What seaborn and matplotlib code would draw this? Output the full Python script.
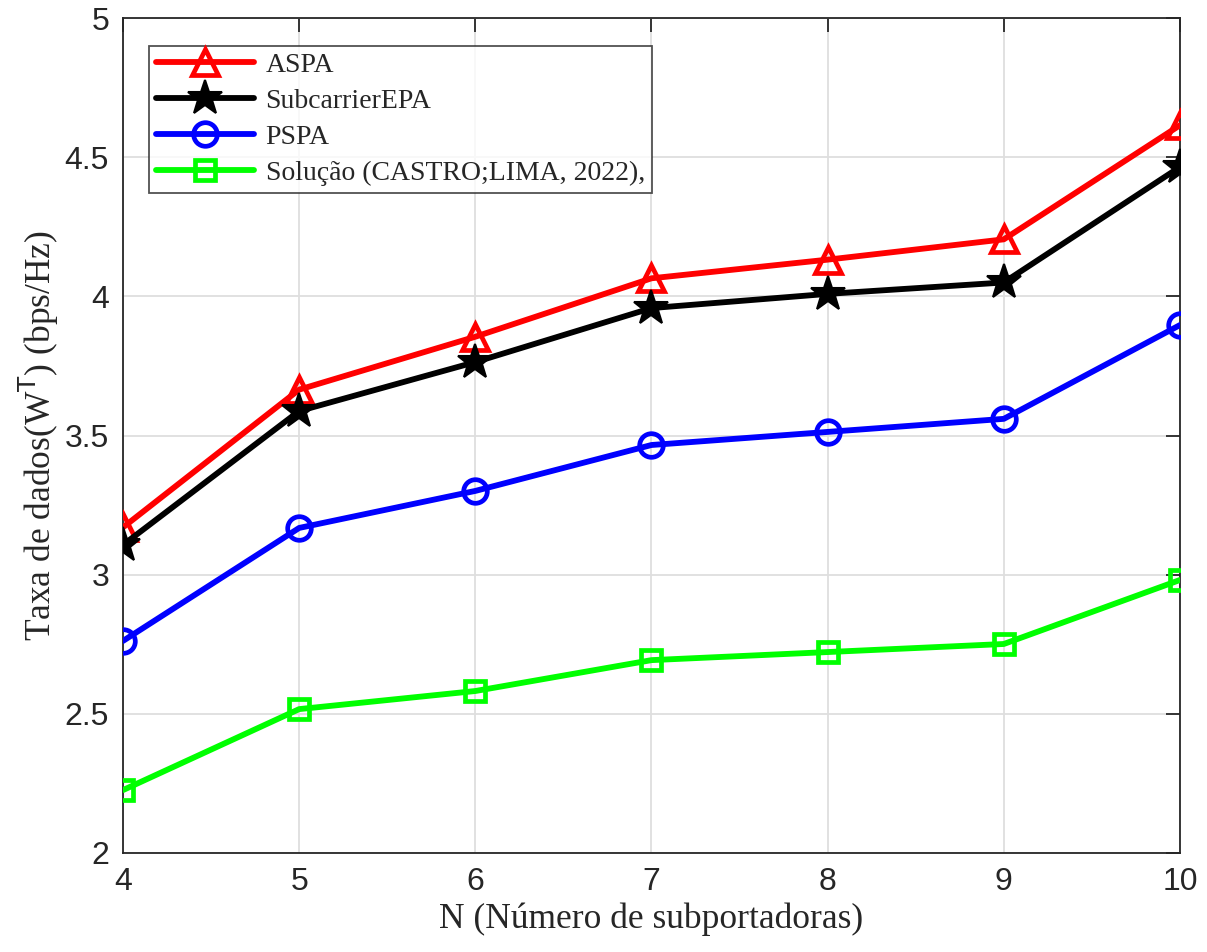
import matplotlib
matplotlib.use("Agg")
import matplotlib.pyplot as plt
import seaborn as sns
import pandas as pd

N = [4, 5, 6, 7, 8, 9, 10]
aspa = [3.17, 3.665, 3.855, 4.065, 4.132, 4.205, 4.615]
subcarrier_epa = [3.107, 3.588, 3.764, 3.958, 4.009, 4.050, 4.465]
pspa = [2.762, 3.168, 3.301, 3.466, 3.513, 3.560, 3.897]
solucao = [2.226, 2.517, 2.582, 2.693, 2.722, 2.751, 2.981]

labels = ["ASPA", "SubcarrierEPA", "PSPA", "Solução (CASTRO;LIMA, 2022),"]
series = [aspa, subcarrier_epa, pspa, solucao]
colors = ["#ff0000", "#000000", "#0000ff", "#00ff00"]
markers = ["^", "*", "o", "s"]
msizes = [19, 26, 17, 14]

rows = []
for lab, vals in zip(labels, series):
    for n, v in zip(N, vals):
        rows.append({"N": n, "rate": v, "serie": lab})
df = pd.DataFrame(rows)

sns.set_style("white")
plt.rcParams["font.family"] = ["Liberation Sans", "DejaVu Sans"]

fig = plt.figure(figsize=(12.07, 9.52), dpi=100)
ax = fig.add_axes([0.1019, 0.104, 0.8757, 0.877])

for lab, col, mk, ms in zip(labels, colors, markers, msizes):
    sub = df[df["serie"] == lab]
    filled = mk == "*"
    sns.lineplot(data=sub, x="N", y="rate", ax=ax, color=col, lw=4.2,
                 marker=mk, markersize=ms,
                 markerfacecolor=col if filled else "none",
                 markeredgecolor=col, markeredgewidth=3.4 if not filled else 1.5,
                 label=lab, zorder=3)

ax.set_xlim(4, 10)
ax.set_ylim(2, 5)
ax.set_xticks(N)
ax.set_yticks([2, 2.5, 3, 3.5, 4, 4.5, 5])
ax.set_yticklabels(["2", "2.5", "3", "3.5", "4", "4.5", "5"])
ax.grid(True, color="#dedede", lw=1.3)
ax.tick_params(axis="both", direction="in", length=10, width=1.3, labelsize=23,
               top=True, right=True, pad=10, colors="#262626")
for s in ax.spines.values():
    s.set_color("#262626")
    s.set_linewidth(1.3)

ax.set_xlabel("N (Número de subportadoras)", family="Liberation Serif", fontsize=25.5, labelpad=4)
ax.set_ylabel(r"Taxa de dados(W$^{\mathrm{T}}$) (bps/Hz)", family="Liberation Serif", fontsize=25.5, labelpad=3)

leg = ax.legend(loc="upper left", bbox_to_anchor=(0.0245, 0.967), frameon=True, fancybox=False,
                edgecolor="#262626", prop={"family": "Liberation Serif", "size": 20},
                handlelength=3.55, handletextpad=0.4, borderpad=0.25, labelspacing=0.38,
                borderaxespad=0)
leg.get_frame().set_linewidth(1.3)

fig.savefig("out.png", dpi=100)
